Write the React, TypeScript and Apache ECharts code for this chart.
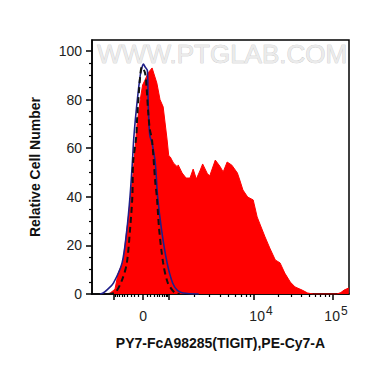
import React, { useEffect, useRef } from "react";
import * as echarts from "echarts";

// x values are display positions on the biexponential axis, in decades (10^4 -> 4, 10^5 -> 5)
const redX = [2.15, 2.18, 2.24, 2.28, 2.34, 2.40, 2.47, 2.52, 2.56, 2.59, 2.62, 2.66, 2.71, 2.77, 2.81, 2.85, 2.90, 2.92, 2.94, 2.98, 3.03, 3.04, 3.09, 3.14, 3.19, 3.23, 3.27, 3.32, 3.35, 3.41, 3.44, 3.51, 3.57, 3.61, 3.66, 3.72, 3.79, 3.82, 3.86, 3.92, 3.99, 4.04, 4.08, 4.14, 4.20, 4.27, 4.33, 4.39, 4.46, 4.52, 4.61, 4.68, 4.75, 5.05, 5.10, 5.14, 5.20];
const redY = [0, 0.4, 2, 8.6, 13, 29, 50, 70, 80, 86, 88, 91, 93, 86.8, 80, 77, 63.4, 57, 56.4, 53.9, 52.3, 53.1, 49.8, 47.7, 47.7, 51.4, 47.3, 51, 53.5, 49.5, 48.6, 55.1, 52.5, 50.2, 54.3, 53, 49.8, 46.9, 42.8, 39.9, 38.7, 31.7, 28.4, 23.5, 18.9, 14, 12.8, 8.6, 4.9, 2.9, 1.6, 0.4, 0, 0, 0.6, 1.6, 2.5];

const blueX = [2.05, 2.09, 2.15, 2.22, 2.33, 2.39, 2.43, 2.46, 2.48, 2.52, 2.56, 2.58, 2.60, 2.62, 2.65, 2.66, 2.68, 2.71, 2.75, 2.78, 2.83, 2.90, 2.97, 3.03, 3.10, 3.30];
const blueY = [0, 0.4, 2, 4.5, 12.8, 26.3, 40, 54, 65, 79, 90, 93, 94.6, 93.5, 92, 79, 65.4, 62, 54, 40, 26.3, 12.8, 4.5, 1.5, 0.4, 0];

const dashX = [2.15, 2.24, 2.33, 2.39, 2.43, 2.46, 2.47, 2.51, 2.52, 2.56, 2.58, 2.62, 2.64, 2.66, 2.68, 2.71, 2.75, 2.77, 2.80, 2.85, 2.91, 3.00, 3.06];
const dashY = [0, 0.5, 5.8, 12.8, 26.3, 40, 54, 65, 72, 90, 93.4, 91, 85, 75, 68, 63, 46, 40, 26.3, 12.8, 4.5, 0.4, 0];

// axis ticks (display positions) and labels
const majorTicks = [2.228, 2.595, 2.924, 4.0, 5.0];
const labelTicks = [2.595, 4.0, 5.0];
const labelTexts = ["0", "10^4", "10^5"];
const yMajor = [0, 20, 40, 60, 80, 100];
const yMinor = [5, 10, 15, 25, 30, 35, 45, 50, 55, 65, 70, 75, 85, 90, 95];

const X_MIN = 1.949;
const X_MAX = 5.203;
const Y_MIN = 0;
const Y_MAX = 104.5;

function minorXTicks(): number[] {
  const out: number[] = [];
  const zero = majorTicks[1];
  const negK = majorTicks[0];
  const posK = majorTicks[2];
  const W = 400;
  const norm = Math.asinh(1000 / W);
  for (let k = 1; k <= 9; k++) {
    const f = Math.asinh((k * 100) / W) / norm;
    out.push(zero - (zero - negK) * f);
    out.push(zero + (posK - zero) * f);
  }
  for (let k = 2; k <= 9; k++) {
    out.push(posK + (4.0 - posK) * Math.log10(k));
    out.push(4.0 + Math.log10(k));
    const t = 5.0 + Math.log10(k);
    if (t < X_MAX) out.push(t);
  }
  return out;
}

const FONT = "'Liberation Sans', Arial, sans-serif";

export default function App() {
  const ref = useRef<HTMLDivElement>(null);
  useEffect(() => {
    if (!ref.current) return;
    const chart = echarts.init(ref.current, undefined, { renderer: "svg" });
    const pair = (xs: number[], ys: number[]) => xs.map((x, i) => [x, ys[i]]);
    const option: any = {
      animation: false,
      backgroundColor: "#ffffff",
      grid: {
        left: 92,
        right: 21,
        top: 40,
        bottom: 73,
        show: true,
        borderColor: "#000",
        borderWidth: 1.5,
        backgroundColor: "transparent",
      },
      graphic: [
        {
          type: "text",
          left: 97,
          top: 41,
          z: 1,
          style: {
            text: "WWW.PTGLAB.COM",
            fontSize: 26,
            fontFamily: FONT,
            fill: "#ebebeb",
            stroke: "#bdbdbd",
            lineWidth: 0.6,
          },
        },
      ],
      xAxis: [
        {
          type: "value",
          min: X_MIN,
          max: X_MAX,
          name: "PY7-FcA98285(TIGIT),PE-Cy7-A",
          nameLocation: "middle",
          nameGap: 42,
          nameTextStyle: { fontFamily: FONT, fontWeight: "bold", fontSize: 14, color: "#111" },
          splitLine: { show: false },
          axisLine: { show: true, lineStyle: { color: "#000", width: 1.5 } },
          axisTick: { show: true, length: 6, customValues: majorTicks, lineStyle: { color: "#000", width: 1.5 } },
          axisLabel: {
            customValues: labelTicks,
            margin: 11,
            fontFamily: FONT,
            fontSize: 14,
            color: "#222",
            formatter: (v: number) => {
              let idx = 0;
              let best = 1e9;
              labelTicks.forEach((t, i) => {
                if (Math.abs(t - v) < best) { best = Math.abs(t - v); idx = i; }
              });
              const s = labelTexts[idx];
              if (s.indexOf("^") >= 0) {
                const [b, e] = s.split("^");
                const key = idx === 1 ? "b1" : "b2";
                return "{" + key + "|" + b + "}{s|" + e + "}";
              }
              return "{b|" + s + "}";
            },
            rich: {
              b: { fontFamily: FONT, fontSize: 14, color: "#222", lineHeight: 18, verticalAlign: "bottom" },
              b1: { fontFamily: FONT, fontSize: 14, color: "#222", lineHeight: 18, verticalAlign: "bottom", padding: [0, 0, 0, 14] },
              b2: { fontFamily: FONT, fontSize: 14, color: "#222", lineHeight: 18, verticalAlign: "bottom", padding: [0, 0, 0, 6] },
              s: { fontFamily: FONT, fontSize: 12, color: "#222", lineHeight: 18, verticalAlign: "top", padding: [0, 0, 8, 1] },
            },
          },
        },
        {
          type: "value",
          min: X_MIN,
          max: X_MAX,
          position: "bottom",
          offset: 0,
          splitLine: { show: false },
          axisLine: { show: false },
          axisTick: { show: true, length: 3, customValues: minorXTicks(), lineStyle: { color: "#000", width: 1.2 } },
          axisLabel: { show: false },
        },
      ],
      yAxis: [
        {
          type: "value",
          min: Y_MIN,
          max: Y_MAX,
          name: "Relative Cell Number",
          nameLocation: "middle",
          nameGap: 50,
          nameTextStyle: { fontFamily: FONT, fontWeight: "bold", fontSize: 14, color: "#111" },
          splitLine: { show: false },
          axisLine: { show: true, lineStyle: { color: "#000", width: 1.5 } },
          axisTick: { show: true, length: 6, customValues: yMajor, lineStyle: { color: "#000", width: 1.5 } },
          axisLabel: { customValues: yMajor, margin: 10, fontFamily: FONT, fontSize: 14, color: "#222", padding: [0, 0, 3, 0] },
        },
        {
          type: "value",
          min: Y_MIN,
          max: Y_MAX,
          position: "left",
          offset: 0,
          splitLine: { show: false },
          axisLine: { show: false },
          axisTick: { show: true, length: 3, customValues: yMinor, lineStyle: { color: "#000", width: 1.2 } },
          axisLabel: { show: false },
        },
      ],
      series: [
        {
          type: "line",
          data: pair(redX, redY),
          symbol: "none",
          lineStyle: { color: "#ff0000", width: 1 },
          areaStyle: { color: "#ff0000", opacity: 1 },
          z: 2,
        },
        {
          type: "line",
          data: pair(blueX, blueY),
          symbol: "none",
          smooth: 0.3,
          lineStyle: { color: "#1f1f8a", width: 1.6 },
          z: 3,
        },
        {
          type: "line",
          data: pair(dashX, dashY),
          symbol: "none",
          smooth: 0.3,
          lineStyle: { color: "#111111", width: 2, type: [6, 4] },
          z: 4,
        },
      ],
    };
    chart.setOption(option);
    return () => chart.dispose();
  }, []);
  return (
    <div
      ref={ref}
      style={{ position: "absolute", left: 0, top: 0, width: 370, height: 367, background: "#fff" }}
    />
  );
}
